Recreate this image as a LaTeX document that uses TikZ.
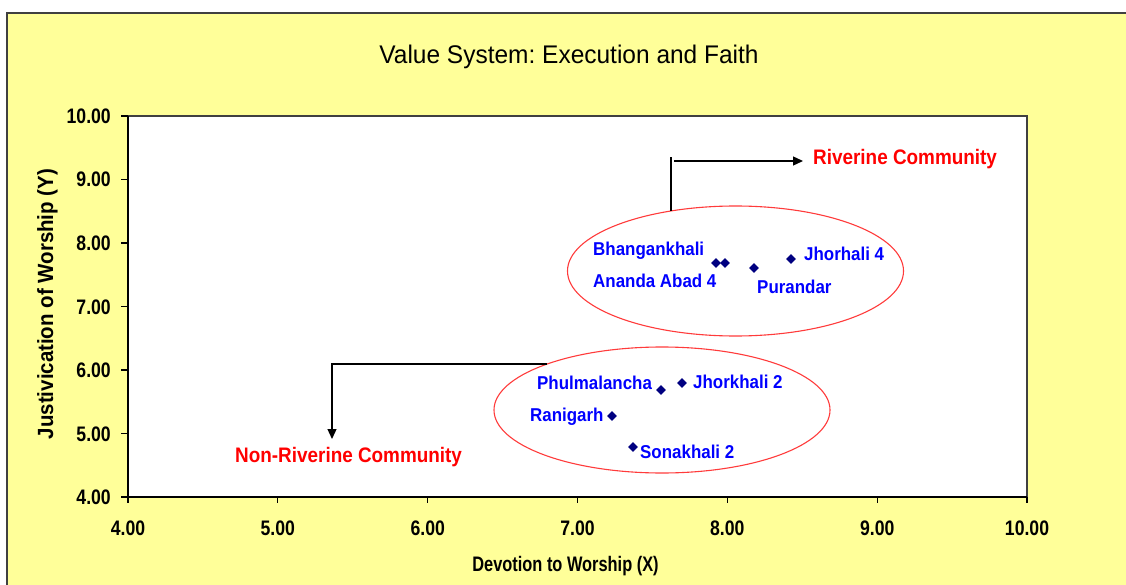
\documentclass[tikz,border=0pt]{standalone}
\usepackage{fontspec}
\setmainfont{Liberation Sans}
\usepackage{graphicx}
\usetikzlibrary{shapes.geometric,arrows.meta}
\definecolor{bgyellow}{HTML}{FFFF99}
\definecolor{framegray}{HTML}{404040}
\definecolor{lblblue}{HTML}{0000FF}
\definecolor{lblred}{HTML}{FF0000}
\definecolor{ellred}{HTML}{FF3B3B}
\definecolor{mknavy}{HTML}{000080}
\newcommand{\sqz}[2]{\scalebox{#1}[1]{#2}}
\frenchspacing
\begin{document}
\begin{tikzpicture}[x=1pt,y=-1pt,
  mk/.style={diamond, fill=mknavy, inner sep=0pt, minimum width=10pt, minimum height=10pt},
  blab/.style={text=lblblue, font=\bfseries\fontsize{18.6}{20}\selectfont, inner sep=0pt, anchor=base west},
  rlab/.style={text=lblred, font=\bfseries\fontsize{21}{22}\selectfont, inner sep=0pt, anchor=base west},
  ticklab/.style={font=\bfseries\fontsize{21}{22}\selectfont, inner sep=0pt},
  axtitle/.style={font=\bfseries\fontsize{21}{22}\selectfont, inner sep=0pt, anchor=base},
  grp/.style={ellipse, draw=ellred, line width=1.1pt, inner sep=0pt},
  conn/.style={draw=black, line width=1.3pt},
  arr/.style={conn, -{Triangle[length=10pt,width=9pt]}}
]
\useasboundingbox (0,0) rectangle (1126,585);
\clip (0,0) rectangle (1126,585);
\fill[white] (0,0) rectangle (1126,585);
% chart area
\fill[bgyellow] (7,13) rectangle (1140,600);
\draw[framegray, line width=1.5pt] (1140,13) -- (7,13) -- (7,600);
% title
\node[anchor=base, inner sep=0pt, font=\fontsize{25.5}{27}\selectfont] (title) at (569,63.3) {\sqz{0.96}{Value System: Execution and Faith}};
% plot area
\fill[white] (128,116) rectangle (1027,497);
\draw[framegray, line width=1.2pt] (128,116) rectangle (1027,497);
\draw[black, line width=1.2pt] (128,116) -- (128,497) -- (1027,497);
% y ticks
\foreach \v/\py in {4/497,5/433.5,6/370,7/306.5,8/243,9/179.5,10/116}{
  \draw[black, line width=1.2pt] (121,\py) -- (128,\py);
  \node[ticklab, anchor=base east] (yt\v) at (111,\py+7.5) {\sqz{0.84}{\v.00}};
}
% x ticks
\foreach \v/\px in {4/128,5/277.8,6/427.7,7/577.5,8/727.3,9/877.2,10/1027}{
  \draw[black, line width=1.2pt] (\px,497) -- (\px,503);
  \node[ticklab, anchor=base] (xt\v) at (\px,535.5) {\sqz{0.84}{\v.00}};
}
% axis titles
\node[axtitle] (xtitle) at (565.5,571.7) {\sqz{0.78}{Devotion to Worship (X)}};
\node[axtitle, rotate=90, font=\bfseries\fontsize{22}{24}\selectfont] (ytitle) at (53,304) {\sqz{0.93}{Justivication of Worship (Y)}};
% group ellipses
\node[grp, minimum width=336pt, minimum height=130pt] (riv) at (735.5,271) {};
\node[grp, minimum width=336pt, minimum height=126pt] (nonriv) at (662,410) {};
% data points
\node[mk] (p1) at (716,263) {};
\node[mk] (p2) at (725,263) {};
\node[mk] (p3) at (754,268) {};
\node[mk] (p4) at (791,259) {};
\node[mk] (p5) at (661,390) {};
\node[mk] (p6) at (682,383) {};
\node[mk] (p7) at (612,416) {};
\node[mk] (p8) at (633,447) {};
% point labels
\node[blab] (l1) at (593,255.7) {\sqz{0.91}{Bhangankhali}};
\node[blab] (l2) at (593,287.7) {\sqz{0.91}{Ananda Abad 4}};
\node[blab] (l3) at (757,293.7) {\sqz{0.91}{Purandar}};
\node[blab] (l4) at (804,260.7) {\sqz{0.91}{Jhorhali 4}};
\node[blab] (l5) at (537,389.7) {\sqz{0.91}{Phulmalancha}};
\node[blab] (l6) at (693,388.7) {\sqz{0.91}{Jhorkhali 2}};
\node[blab] (l7) at (530,421.7) {\sqz{0.91}{Ranigarh}};
\node[blab] (l8) at (640,458.4) {\sqz{0.91}{Sonakhali 2}};
% community labels
\node[rlab] (rivlab) at (813,164.5) {\sqz{0.9}{Riverine Community}};
\node[rlab] (nonrivlab) at (235,462.5) {\sqz{0.9}{Non-Riverine Community}};
% connectors
\coordinate (rivTop) at (671,211);
\coordinate (rivBend) at (671,157);
\coordinate (rivStart) at (674,161);
\coordinate (rivTip) at (803,161);
\draw[conn] (rivTop) -- (rivBend);
\draw[arr] (rivStart) -- (rivTip);
\coordinate (nrStart) at (547,364);
\coordinate (nrTip) at (332,439);
\draw[arr] (nrStart) -| (nrTip);
\end{tikzpicture}
\end{document}
